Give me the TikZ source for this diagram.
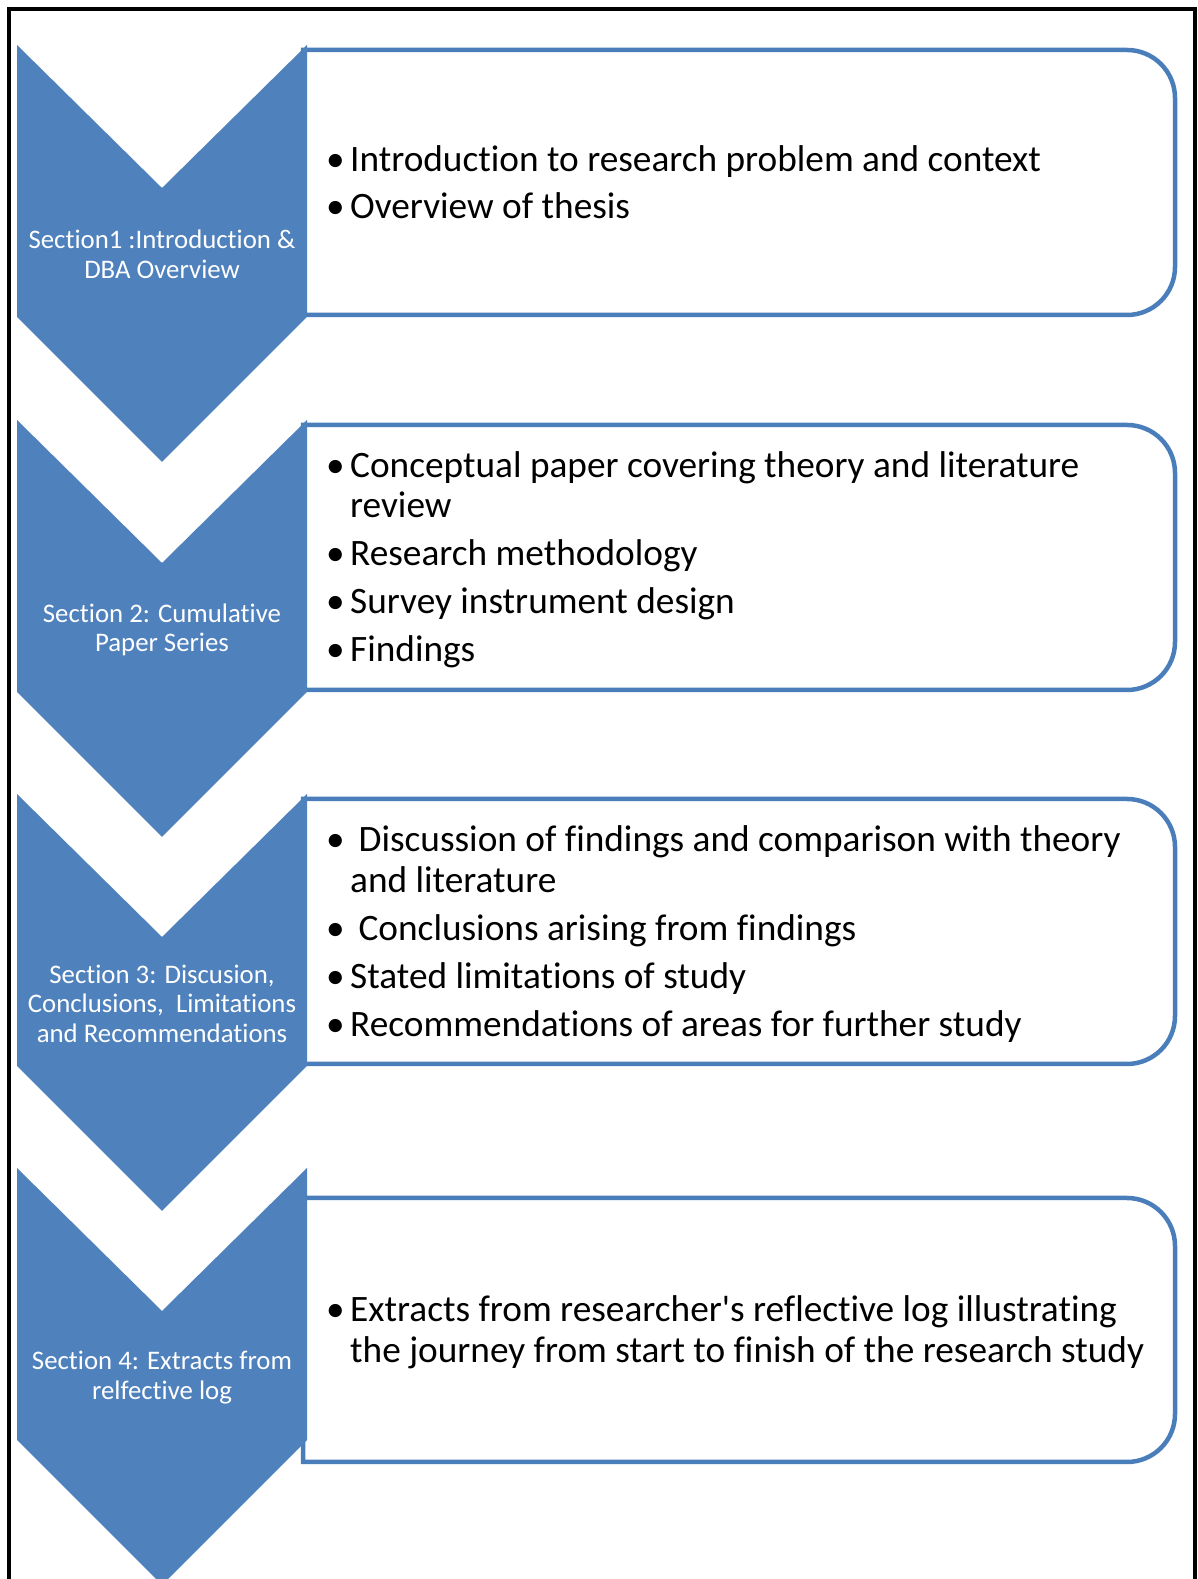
\documentclass[tikz,border=0pt]{standalone}
\usepackage{fontspec}
\setmainfont{Carlito}[Ligatures={NoCommon,TeXOff}]
\definecolor{chevblue}{HTML}{4F81BD}
\definecolor{boxblue}{HTML}{4A7EBB}
\tikzset{
  chev/.style={fill=chevblue, draw=none},
  boxline/.style={draw=boxblue, line width=4.5pt, fill=white},
  chevtext/.style={text=white, align=center, inner sep=0pt, font={\fontsize{26.8}{29.5}\selectfont}},
  itemtext/.style={text=black, align=left, anchor=west, inner sep=0pt, font={\fontsize{37.3}{40.5}\selectfont}},
  frameline/.style={draw=black, line width=4pt}
}
\newcommand{\rbox}[2]{%
  \path[boxline] (303,#2) -- (303,#1) -- (1127,#1) arc[start angle=90,end angle=0,radius=48] -- (1175,{#2+48}) arc[start angle=0,end angle=-90,radius=48] -- cycle;}
\newcommand{\chevron}[1]{%
  \path[chev] (17,#1) -- (162,{#1-143}) -- (307,#1) -- (307,{#1-272}) -- (162,{#1-417}) -- (17,{#1-272}) -- cycle;}
\newcommand{\bul}{\makebox[24pt][l]{•}}
\newcommand{\hang}{\makebox[24pt][l]{}}
\begin{document}
\begin{tikzpicture}[x=1pt,y=1pt]
\useasboundingbox (0,0) rectangle (1198,1579);
\clip (0,0) rectangle (1198,1579);
\fill[white] (0,0) rectangle (1198,1579);
% outer frame (no bottom edge visible)
\draw[frameline] (9,-10) -- (9,1570) -- (1195,1570) -- (1195,-10);
% boxes
\rbox{1529}{1264}
\rbox{1154}{889}
\rbox{780}{515}
\rbox{381}{117}
% chevrons
\chevron{1534}
\chevron{1159}
\chevron{785}
\chevron{411}
% chevron labels
\node[chevtext] (s1) at (162,1324.5) {Section1 :Introduction \&\\DBA Overview};
\node[chevtext] (s2) at (162,949) {Section 2: Cumulative\\Paper Series};
\node[chevtext] (s3) at (162,575.5) {Section 3: Discusion,\\Conclusions,\ \ Limitations\\and Recommendations};
\node[chevtext] (s4) at (162,201.5) {Section 4: Extracts from\\relfective log};
% box texts
\node[itemtext] (b1) at (326,1397) {\bul Introduction to research problem and context\\[6pt]\bul Overview of thesis};
\node[itemtext] (b2) at (326,1019) {\bul Conceptual paper covering theory and literature\\\hang review\\[7.5pt]\bul Research methodology\\[7.5pt]\bul Survey instrument design\\[7.5pt]\bul Findings};
\node[itemtext] (b3) at (326,645) {\bul\ Discussion of findings and comparison with theory\\\hang and literature\\[7.5pt]\bul\ Conclusions arising from findings\\[7.5pt]\bul Stated limitations of study\\[7.5pt]\bul Recommendations of areas for further study};
\node[itemtext] (b4) at (326,247) {\bul Extracts from researcher's reflective log illustrating\\\hang the journey from start to finish of the research study};
\end{tikzpicture}
\end{document}
